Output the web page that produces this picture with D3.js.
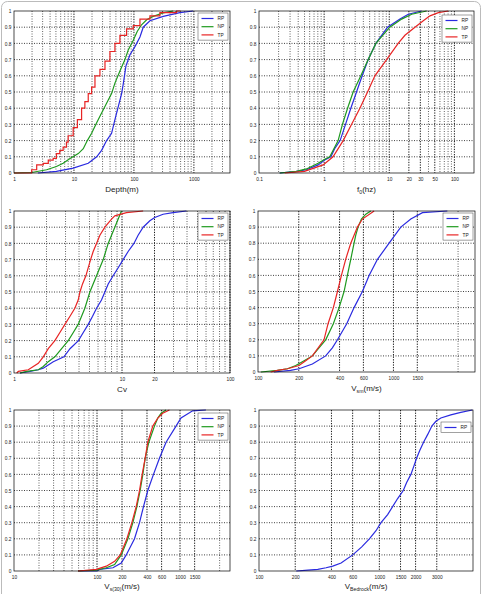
<!DOCTYPE html>
<html>
<head>
<meta charset="utf-8">
<script src="https://cdn.jsdelivr.net/npm/d3@7"></script>
<style>
body { margin: 0; background: #fff; }
svg { display: block; }
text { font-family: "Liberation Sans", Arial, sans-serif; }
</style>
</head>
<body>
<svg id="chart" width="483" height="594"></svg>
<script>
// cumulative curves, [value, probability]
var depthRP = [[2.5,0],[5.1,0.01],[9.7,0.03],[17.3,0.06],[23.9,0.1],[28.9,0.14],[35,0.2],[42.4,0.245],[48.2,0.33],[54.8,0.41],[62.3,0.49],[66.4,0.55],[73.5,0.66],[85.8,0.73],[104,0.78],[126,0.84],[143,0.9],[185,0.94],[308,0.967],[584,0.99],[975,1]];
var depthNP = [[1,0],[1.97,0.003],[3.5,0.02],[5.1,0.04],[6.6,0.06],[8.6,0.09],[11.8,0.12],[14.3,0.15],[16.7,0.2],[19.7,0.245],[23.9,0.31],[28.9,0.37],[35,0.43],[42.4,0.49],[48.2,0.555],[58.4,0.63],[70.8,0.7],[80.5,0.76],[97.5,0.82],[114,0.875],[134,0.915],[163,0.946],[210,0.967],[308,0.988],[452,1]];
var depthTP = [[1,0],[1.97,0.02],[2.39,0.05],[3.08,0.06],[3.73,0.08],[4.5,0.09],[5.1,0.12],[5.8,0.14],[6.6,0.16],[7.5,0.19],[8.0,0.23],[9.7,0.28],[11.4,0.33],[13.4,0.4],[15.2,0.44],[17.3,0.49],[19.7,0.53],[22.4,0.6],[27.1,0.64],[32.9,0.69],[39.8,0.75],[48.2,0.8],[58.4,0.85],[75.4,0.89],[97.5,0.91],[126,0.95],[185,0.97],[271,0.99],[514,1],[600,1]];

var f0RP = [[0.208,0],[0.375,0.01],[0.535,0.02],[0.809,0.05],[1.02,0.08],[1.27,0.1],[1.45,0.15],[1.76,0.2],[2.13,0.3],[2.57,0.4],[3.14,0.5],[3.84,0.6],[4.75,0.7],[6.23,0.8],[9.42,0.9],[14.6,0.95],[19.6,0.98],[31.4,1]];
var f0NP = [[0.208,0],[0.375,0.01],[0.535,0.025],[0.809,0.06],[1.02,0.085],[1.22,0.1],[1.64,0.2],[1.91,0.3],[2.29,0.4],[2.79,0.5],[3.66,0.6],[4.75,0.7],[6.23,0.8],[10.2,0.9],[15.5,0.95],[22.1,0.98],[37.5,1]];
var f0TP = [[0.248,0],[0.5,0.01],[0.965,0.05],[1.37,0.1],[1.96,0.2],[2.63,0.3],[3.54,0.4],[4.64,0.5],[6.02,0.6],[9.1,0.7],[13.7,0.8],[17.4,0.85],[24.8,0.9],[33.3,0.94],[42.2,0.97],[56.8,0.99],[80.8,1]];

var cvRP = [[1.137,0],[1.406,0.01],[1.679,0.02],[1.867,0.03],[2.076,0.05],[2.31,0.07],[2.9,0.1],[3.3,0.15],[3.95,0.2],[4.38,0.25],[4.87,0.3],[5.34,0.35],[5.81,0.4],[6.46,0.45],[6.94,0.5],[7.45,0.55],[8.28,0.6],[9.22,0.65],[10.25,0.7],[11.4,0.75],[12.9,0.8],[14.1,0.85],[15.7,0.9],[18.1,0.94],[20.1,0.96],[24.0,0.98],[29.7,0.99],[39.5,1]];
var cvNP = [[1.137,0],[1.31,0.01],[1.679,0.02],[1.867,0.04],[2.076,0.07],[2.39,0.1],[2.76,0.15],[3.18,0.2],[3.54,0.25],[3.93,0.3],[4.53,0.4],[5.04,0.5],[5.81,0.6],[6.7,0.7],[7.45,0.8],[8.0,0.85],[8.58,0.9],[9.22,0.95],[9.89,1]];
var cvTP = [[1.059,0],[1.097,0.01],[1.357,0.02],[1.509,0.04],[1.679,0.06],[1.867,0.1],[2.076,0.15],[2.39,0.2],[2.66,0.25],[2.96,0.3],[3.3,0.35],[3.66,0.4],[3.93,0.45],[4.08,0.5],[4.31,0.55],[4.63,0.6],[4.87,0.65],[5.12,0.7],[5.41,0.75],[5.81,0.8],[6.24,0.85],[6.94,0.9],[8.0,0.95],[8.58,0.97],[11.0,0.99],[15.7,1]];

var vsmRP = [[131,0],[174,0.01],[201,0.02],[252,0.05],[316,0.1],[354,0.15],[386,0.2],[452,0.3],[512,0.4],[590,0.5],[661,0.6],[762,0.7],[929,0.8],[1133,0.9],[1343,0.95],[1637,0.99],[2500,1]];
var vsmNP = [[105,0],[139,0.01],[165,0.02],[190,0.04],[219,0.07],[252,0.1],[282,0.15],[316,0.2],[360,0.3],[397,0.4],[432,0.5],[457,0.6],[484,0.7],[512,0.8],[527,0.85],[548,0.9],[580,0.95],[625,0.98],[680,1]];
var vsmTP = [[124,0],[139,0.01],[165,0.02],[201,0.04],[225,0.07],[252,0.1],[307,0.2],[329,0.3],[360,0.4],[386,0.5],[413,0.6],[444,0.7],[484,0.8],[512,0.85],[542,0.9],[590,0.95],[720,1]];

var vs30RP = [[59,0],[100,0],[107.6,0.01],[155.6,0.02],[195.9,0.05],[224.9,0.1],[283,0.2],[325,0.3],[363,0.4],[409,0.5],[479,0.6],[565,0.7],[679,0.8],[895,0.9],[1028,0.95],[1419,0.995],[2050,1]];
var vs30NP = [[59,0],[98,0.005],[129.4,0.02],[163,0.04],[195.9,0.1],[235.5,0.2],[270.4,0.3],[302,0.4],[331,0.5],[356.5,0.6],[380,0.7],[421,0.8],[492,0.9],[540,0.95],[592,0.98],[679,1]];
var vs30TP = [[59,0],[98,0.01],[129.4,0.03],[163,0.06],[190.5,0.1],[229.1,0.2],[263,0.3],[296.5,0.4],[325,0.5],[350,0.6],[380,0.7],[409,0.8],[470,0.9],[540,0.95],[619,0.98],[745,1]];

var bedRP = [[204,0],[255,0.005],[308,0.01],[361,0.02],[410,0.03],[481,0.05],[601,0.1],[714,0.15],[826,0.2],[938,0.25],[1032,0.3],[1172,0.35],[1289,0.4],[1419,0.45],[1581,0.5],[1686,0.55],[1828,0.6],[1932,0.65],[2038,0.7],[2170,0.75],[2330,0.8],[2530,0.85],[2731,0.9],[2950,0.93],[3243,0.95],[3925,0.97],[4750,0.985],[5933,1]];

// axis values
var depthTicks = [1,10,100,1000];
var depthMinor = [2,3,4,5,6,7,8,9,20,30,40,50,60,70,80,90,200,300,400,500,600,700,800,900,2000,3000];
var f0Ticks = [0.1,1,10,20,30,50,100];
var f0Minor = [0.2,0.3,0.4,0.5,0.6,0.7,0.8,0.9,2,3,4,5,6,7,8,9,40,60,70,80,90];
var cvTicks = [1,10,20,100];
var cvMinor = [2,3,4,5,6,7,8,9,30,40,50,60,70,80,90];
var vsmTicks = [100,200,400,600,1000,1500];
var vsmMinor = [3000];
var vs30Ticks = [10,100,200,400,600,1000,1500];
var vs30Minor = [20,30,40,50,60,70,80,90,3000];
var bedTicks = [100,200,400,600,1000,1500,2000,3000];
var bedMinor = [];
var yTicks = [0,0.1,0.2,0.3,0.4,0.5,0.6,0.7,0.8,0.9,1];

var names = ['RP','NP','TP'];
var colors = {RP: '#2a2ae0', NP: '#1e9a1e', TP: '#e82424'};

var svg = d3.select('#chart');

svg.append('rect')
	.attr('x', 1.5).attr('y', 1.5)
	.attr('width', 479).attr('height', 610)
	.attr('rx', 6)
	.attr('fill', 'none')
	.attr('stroke', '#bbb');

var panels = [
	{dom: [1,4000], l: 14, r: 230, t: 11, b: 173, ticks: depthTicks, minor: depthMinor,
	 series: {RP: depthRP, NP: depthNP, TP: depthTP}, step: 'TP', title: ['Depth(m)'], ty: 192, lt: 2},
	{dom: [0.1,200], l: 259, r: 474, t: 11, b: 173, ticks: f0Ticks, minor: f0Minor,
	 series: {RP: f0RP, NP: f0NP, TP: f0TP}, title: ['f', '0', '(hz)'], ty: 192, lt: 4},
	{dom: [1,100], l: 14, r: 230, t: 211, b: 373, ticks: cvTicks, minor: cvMinor,
	 series: {RP: cvRP, NP: cvNP, TP: cvTP}, title: ['Cv'], ty: 392, lt: 2},
	{dom: [100,4000], l: 258, r: 475, t: 211, b: 372, ticks: vsmTicks, minor: vsmMinor,
	 series: {RP: vsmRP, NP: vsmNP, TP: vsmTP}, title: ['V', 'sm', '(m/s)'], ty: 391, lt: 2},
	{dom: [10,4000], l: 14, r: 230, t: 410, b: 571, ticks: vs30Ticks, minor: vs30Minor,
	 series: {RP: vs30RP, NP: vs30NP, TP: vs30TP}, title: ['V', 's(30)', '(m/s)'], ty: 589, lt: 3},
	{dom: [100,6000], l: 259, r: 473, t: 410, b: 571, ticks: bedTicks, minor: bedMinor,
	 series: {RP: bedRP}, title: ['V', 'Bedrock', '(m/s)'], ty: 589, lt: 12}
];

panels.forEach(function(p, pi) {
	var g = svg.append('g');
	var x = d3.scaleLog().domain(p.dom).range([p.l, p.r]);
	var y = d3.scaleLinear().domain([0, 1]).range([p.b, p.t]);

	g.append('clipPath').attr('id', 'clip' + pi)
		.append('rect').attr('x', p.l).attr('y', p.t - 1)
		.attr('width', p.r - p.l).attr('height', p.b - p.t + 2);

	// grid
	g.selectAll('.minor').data(p.minor).enter().append('line')
		.attr('x1', function(d) { return x(d) }).attr('x2', function(d) { return x(d) })
		.attr('y1', p.t).attr('y2', p.b)
		.attr('stroke', '#222').attr('stroke-width', 0.7)
		.attr('stroke-dasharray', '1,1.5');
	g.selectAll('.major').data(p.ticks.filter(function(d) { return d > p.dom[0] })).enter().append('line')
		.attr('x1', function(d) { return x(d) }).attr('x2', function(d) { return x(d) })
		.attr('y1', p.t).attr('y2', p.b)
		.attr('stroke', '#000').attr('stroke-width', 0.9)
		.attr('stroke-dasharray', '1.3,1.3');
	g.selectAll('.hgrid').data(yTicks.slice(1, 10)).enter().append('line')
		.attr('x1', p.l).attr('x2', p.r)
		.attr('y1', function(d) { return y(d) }).attr('y2', function(d) { return y(d) })
		.attr('stroke', '#111').attr('stroke-width', 0.8)
		.attr('stroke-dasharray', '1,1.5');

	// curves
	names.forEach(function(n) {
		if (!p.series[n]) return;
		var line = d3.line()
			.x(function(d) { return x(d[0]) })
			.y(function(d) { return y(d[1]) })
			.curve(p.step == n ? d3.curveStepAfter : d3.curveLinear);
		g.append('path')
			.attr('d', line(p.series[n]))
			.attr('clip-path', 'url(#clip' + pi + ')')
			.attr('fill', 'none')
			.attr('stroke', colors[n])
			.attr('stroke-width', 1.2);
	});

	// box
	g.append('rect')
		.attr('x', p.l).attr('y', p.t)
		.attr('width', p.r - p.l).attr('height', p.b - p.t)
		.attr('fill', 'none').attr('stroke', '#000').attr('stroke-width', 0.7);

	// axes
	var xa = g.append('g')
		.attr('transform', 'translate(0,' + p.b + ')')
		.call(d3.axisBottom(x).tickValues(p.ticks).tickFormat(function(d) { return String(d) })
			.tickSize(0).tickPadding(5));
	var ya = g.append('g')
		.attr('transform', 'translate(' + p.l + ',0)')
		.call(d3.axisLeft(y).tickValues(yTicks).tickFormat(function(d) { return String(d) })
			.tickSize(0).tickPadding(2.5));
	[xa, ya].forEach(function(a) {
		a.select('.domain').remove();
		a.selectAll('text').attr('font-size', 4.8).attr('fill', '#222')
			.style('font-family', '"Liberation Sans", Arial, sans-serif');
	});
	ya.selectAll('text').attr('dy', '0.35em');

	// title
	var tt = g.append('text')
		.attr('x', (p.l + p.r) / 2).attr('y', p.ty)
		.attr('text-anchor', 'middle')
		.attr('font-size', 8).attr('fill', '#222');
	tt.append('tspan').text(p.title[0]);
	if (p.title.length > 1) {
		tt.append('tspan').attr('font-size', 5.2).attr('dy', 2.3).text(p.title[1]);
		tt.append('tspan').attr('dy', -2.3).text(p.title[2]);
	}

	// legend
	var keys = names.filter(function(n) { return p.series[n] });
	var bx = p.r - 32, by = p.t + p.lt;
	var lg = g.append('g');
	lg.append('rect')
		.attr('x', bx).attr('y', by)
		.attr('width', 30).attr('height', keys.length * 8.2 + 2.5)
		.attr('fill', '#fff').attr('stroke', '#444').attr('stroke-width', 0.5);
	lg.selectAll('.key').data(keys).enter().append('line')
		.attr('x1', bx + 3.5).attr('x2', bx + 15.5)
		.attr('y1', function(d, i) { return by + 5.5 + i * 8.2 })
		.attr('y2', function(d, i) { return by + 5.5 + i * 8.2 })
		.attr('stroke', function(d) { return colors[d] }).attr('stroke-width', 1.2);
	lg.selectAll('.keytext').data(keys).enter().append('text')
		.attr('x', bx + 19.5)
		.attr('y', function(d, i) { return by + 5.5 + i * 8.2 })
		.attr('dy', '0.35em')
		.attr('font-size', 4.8).attr('fill', '#222')
		.text(function(d) { return d });
});
</script>
</body>
</html>
